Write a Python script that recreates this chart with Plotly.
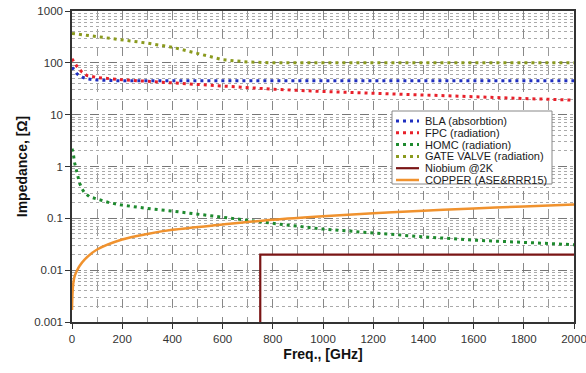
import plotly.graph_objects as go

# ---- data ----
bla_f = [0, 10, 20, 40, 60, 100, 150, 200, 400, 600, 800, 1000, 1200, 1400, 1600, 1800, 2000]
bla_z = [82, 70, 61, 53, 49, 46.5, 45.5, 45, 45, 45, 45, 45, 45, 45, 45, 45, 45]

fpc_f = [0, 10, 20, 40, 60, 100, 200, 300, 400, 500, 600, 800, 1000, 1200, 1400, 1600, 1800, 2000]
fpc_z = [120, 100, 85, 66, 57, 52, 47, 44, 41, 38, 35, 31, 28, 26, 24, 22, 20.5, 19]

homc_f = [0, 5, 10, 20, 30, 40, 50, 70, 100, 150, 200, 300, 400, 500, 600, 800, 1000, 1200, 1400, 1600, 1800, 2000]
homc_z = [2.2, 1.8, 1.2, 0.7, 0.48, 0.37, 0.31, 0.26, 0.235, 0.2, 0.18, 0.155, 0.138, 0.12, 0.106, 0.08, 0.062, 0.052, 0.044, 0.038, 0.034, 0.031]

gate_f = [0, 50, 100, 200, 300, 400, 500, 600, 700, 800, 1000, 1200, 1400, 1600, 1800, 2000]
gate_z = [370, 345, 320, 278, 240, 200, 150, 115, 104, 100, 100, 100, 100, 100, 100, 100]

nb_f = [750, 750, 2000]
nb_z = [0.001, 0.02, 0.02]

cu_f = [0, 2, 5, 10, 20, 30, 50, 100, 200, 300, 400, 600, 800, 1000, 1200, 1400, 1600, 1800, 2000]
cu_z = [0.0017, 0.0035, 0.0055, 0.0075, 0.0098, 0.012, 0.016, 0.025, 0.039, 0.05, 0.06, 0.076, 0.094, 0.11, 0.125, 0.14, 0.155, 0.17, 0.185]

series_names = ["BLA (absorbtion)", "FPC (radiation)", "HOMC (radiation)",
                "GATE VALVE (radiation)", "Niobium @2K", "COPPER (ASE&RRR15)"]

x_ticks = [0, 200, 400, 600, 800, 1000, 1200, 1400, 1600, 1800, 2000]
y_ticks = [0.001, 0.01, 0.1, 1, 10, 100, 1000]
y_tick_text = ["0.001", "0.01", "0.1", "1", "10", "100", "1000"]

# ---- styles ----
dotdash = "3px,4px"
styles = [
    dict(color="#1f2fbf", width=3, dash=dotdash),
    dict(color="#e8202a", width=3, dash=dotdash),
    dict(color="#1e8a2e", width=3, dash=dotdash),
    dict(color="#8a9a1e", width=3, dash=dotdash),
    dict(color="#7a1515", width=2.2, dash="solid"),
    dict(color="#f0922e", width=2.5, dash="solid"),
]
data = [(bla_f, bla_z), (fpc_f, fpc_z), (homc_f, homc_z), (gate_f, gate_z), (nb_f, nb_z), (cu_f, cu_z)]

fig = go.Figure()
for (fx, fy), name, st in zip(data, series_names, styles):
    fig.add_trace(go.Scatter(x=fx, y=fy, mode="lines", name=name,
                             line_shape="spline" if name.startswith("COPPER") else "linear",
                             line=st, showlegend=False))

# ---- geometry (body margin removed via post_script) ----
W, H = 586, 373
L, R, T, B = 72, 12, 11, 51
pw, ph = W - L - R, H - T - B
px = lambda v: (v - L) / pw
py = lambda v: (H - B - v) / ph

# ---- manual compact legend ----
fig.add_shape(type="rect", xref="paper", yref="paper",
              x0=px(392), x1=px(552), y0=py(111), y1=py(184),
              line=dict(color="#888", width=1), fillcolor="white", layer="above")
for i, (name, st) in enumerate(zip(series_names, styles)):
    yy = 121 + i * 11.8
    fig.add_shape(type="line", xref="paper", yref="paper",
                  x0=px(396), x1=px(419), y0=py(yy), y1=py(yy),
                  line=dict(color=st["color"], width=st["width"], dash=st["dash"]), layer="above")
    fig.add_annotation(xref="paper", yref="paper", x=px(423), y=py(yy),
                       xanchor="left", yanchor="middle", showarrow=False,
                       text=name, font=dict(size=11, color="#1a1a1a"))

fig.update_layout(
    width=W, height=H,
    margin=dict(l=L, r=R, t=T, b=B),
    paper_bgcolor="white", plot_bgcolor="white",
    font=dict(family="Liberation Sans, Arial, sans-serif", size=12, color="#333"),
    showlegend=False,
)
fig.update_xaxes(
    range=[0, 2000], tickvals=x_ticks, ticks="outside", ticklen=5, tickcolor="#333",
    tickfont=dict(size=11.5), ticklabeloverflow="allow", automargin=False,
    showline=True, linecolor="#333", linewidth=1.5, mirror=True,
    showgrid=True, gridcolor="#888", griddash="dash", gridwidth=0.8,
    minor=dict(dtick=100, showgrid=True, gridcolor="#999", griddash="dash", gridwidth=0.6),
    zeroline=False,
    title=dict(text="<b>Freq., [GHz]</b>", font=dict(size=14, color="#111"), standoff=6),
)
fig.update_yaxes(
    type="log", range=[-3, 3], tickvals=y_ticks, ticktext=y_tick_text,
    ticks="outside", ticklen=5, tickcolor="#333", tickfont=dict(size=11.5),
    ticklabeloverflow="allow", automargin=False,
    showline=True, linecolor="#333", linewidth=1.5, mirror=True,
    showgrid=True, gridcolor="#777", griddash="dash", gridwidth=1,
    minor=dict(showgrid=True, gridcolor="#aaa", griddash="dot", gridwidth=0.6, dtick="D1"),
    zeroline=False,
    title=dict(text="<b>Impedance, [Ω]</b>", font=dict(size=14, color="#111"), standoff=3),
)

fig.write_html("out.html", config={"displayModeBar": False},
               post_script="document.body.style.margin='0';document.body.style.overflow='hidden';")
